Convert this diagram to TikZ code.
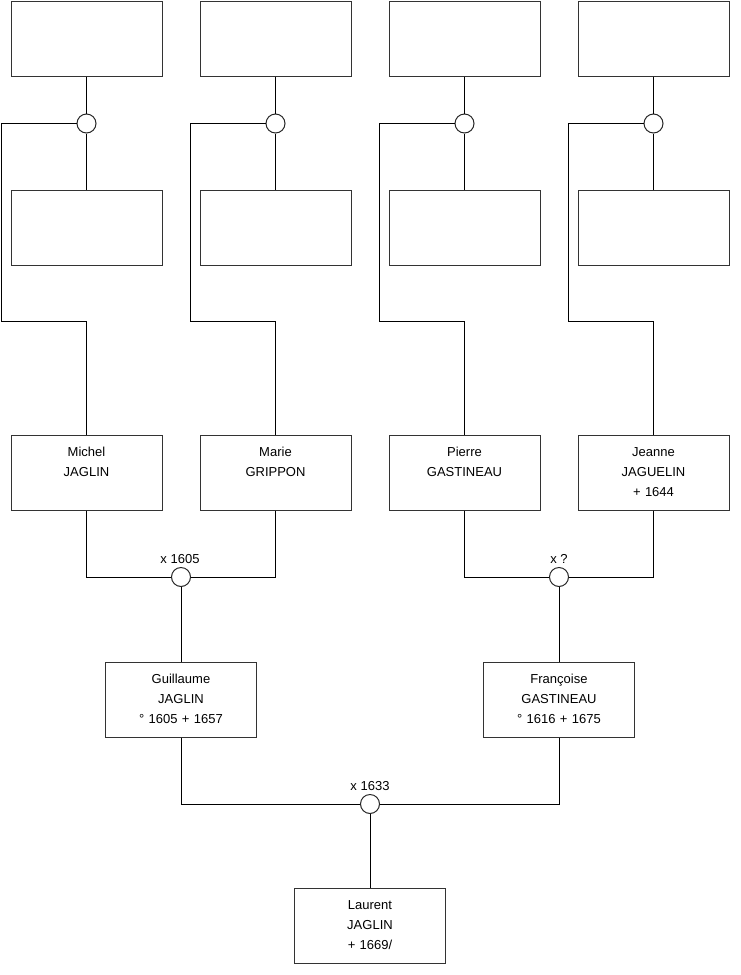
\documentclass[tikz,border=0pt]{standalone}
\usepackage{fontspec}
\setmainfont{Liberation Sans}
\begin{document}
\begin{tikzpicture}[x=1pt,y=-1pt,
  person/.style={draw=black!80, line width=1pt, rectangle, minimum width=151pt, minimum height=75pt, inner sep=0pt, fill=white},
  ptext/.style={anchor=base, text width=151pt, align=center, inner sep=0pt, font=\fontsize{13}{20}\selectfont},
  union/.style={draw=black!85, line width=1pt, circle, minimum size=19pt, inner sep=0pt, fill=white},
  ulabel/.style={anchor=base, inner sep=0pt, font=\fontsize{13}{16}\selectfont},
  link/.style={draw=black, line width=1pt}]
\useasboundingbox (0,0) rectangle (740,975);
% top row
\node[person] (t1) at (86.5,38.5) {};
\node[person] (t2) at (275.5,38.5) {};
\node[person] (t3) at (464.5,38.5) {};
\node[person] (t4) at (653.5,38.5) {};
% second row
\node[person] (s1) at (86.5,227.5) {};
\node[person] (s2) at (275.5,227.5) {};
\node[person] (s3) at (464.5,227.5) {};
\node[person] (s4) at (653.5,227.5) {};
% third row
\node[person] (p1) at (86.5,472.5) {};
\node[person] (p2) at (275.5,472.5) {};
\node[person] (p3) at (464.5,472.5) {};
\node[person] (p4) at (653.5,472.5) {};
\node[ptext] (p1t) at (86.5,456) {Michel\\JAGLIN};
\node[ptext] (p2t) at (275.5,456) {Marie\\GRIPPON};
\node[ptext] (p3t) at (464.5,456) {Pierre\\GASTINEAU};
\node[ptext] (p4t) at (653.5,456) {Jeanne\\JAGUELIN\\+ 1644};
% fourth row
\node[person] (g) at (181,699.5) {};
\node[person] (f) at (559,699.5) {};
\node[ptext] (gt) at (181,683) {Guillaume\\JAGLIN\\° 1605 + 1657};
\node[ptext] (ft) at (559,683) {Françoise\\GASTINEAU\\° 1616 + 1675};
% bottom
\node[person] (l) at (370,925.5) {};
\node[ptext] (lt) at (370,909) {Laurent\\JAGLIN\\+ 1669/};
% top unions
\foreach \i/\xx in {1/86.5,2/275.5,3/464.5,4/653.5}{
  \node[union] (u\i) at (\xx,123.5) {};
  \coordinate (a\i) at (\xx-85,123.5);
  \coordinate (b\i) at (\xx-85,321);
  \coordinate (c\i) at (\xx,321);
  \draw[link] (t\i.south) -- (u\i.north);
  \draw[link] (u\i.south) -- (s\i.north);
  \draw[link] (u\i.west) -- (a\i) -- (b\i) -- (c\i) -- (p\i.north);
}
% marriages
\node[union] (m1) at (181,577) {};
\node[union] (m2) at (559,577) {};
\node[union] (m3) at (370,804) {};
\node[ulabel] (m1l) at (180,563.5) {x 1605};
\node[ulabel] (m2l) at (559,563.5) {x ?};
\node[ulabel] (m3l) at (370,790.5) {x 1633};
\draw[link] (p1.south) |- (m1.west);
\draw[link] (p2.south) |- (m1.east);
\draw[link] (m1.south) -- (g.north);
\draw[link] (p3.south) |- (m2.west);
\draw[link] (p4.south) |- (m2.east);
\draw[link] (m2.south) -- (f.north);
\draw[link] (g.south) |- (m3.west);
\draw[link] (f.south) |- (m3.east);
\draw[link] (m3.south) -- (l.north);
\end{tikzpicture}
\end{document}
